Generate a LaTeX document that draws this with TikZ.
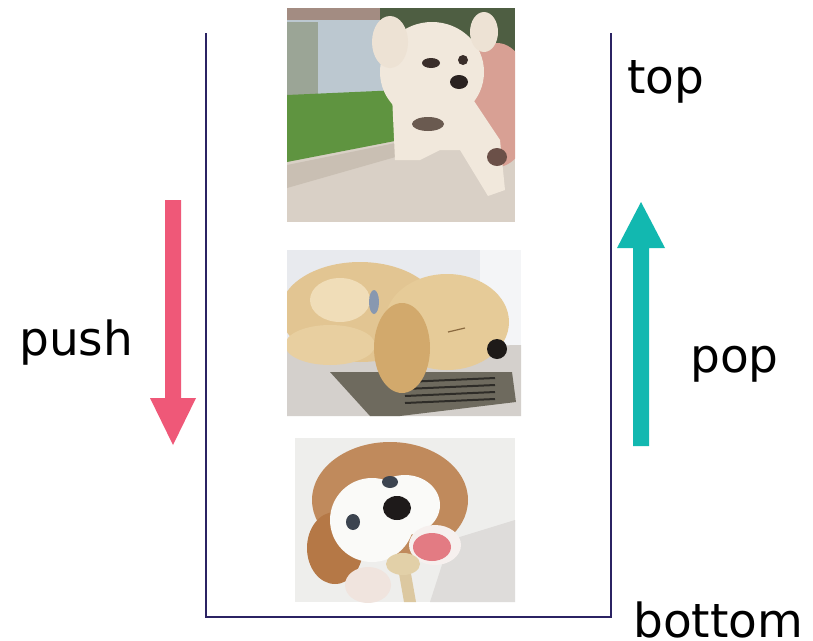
\documentclass[tikz,border=0pt]{standalone}
\usepackage{fontspec}
\setmainfont{DejaVu Sans}
\begin{document}
\begin{tikzpicture}[x=1pt,y=-1pt,
  stackline/.style={draw=stacknavy,line width=1.4pt},
  lbl/.style={anchor=base west,inner sep=0pt,font=\fontsize{47}{52}\selectfont},
  pushfill/.style={fill=pushpink},
  popfill/.style={fill=popteal},
  hf/.code={\definecolor{tmpfill}{HTML}{#1}\pgfkeysalso{fill=tmpfill}},
  hd/.code={\definecolor{tmpdraw}{HTML}{#1}\pgfkeysalso{draw=tmpdraw}}]
\definecolor{stacknavy}{HTML}{2B2363}
\definecolor{pushpink}{HTML}{EF5878}
\definecolor{popteal}{HTML}{12B8B0}
\useasboundingbox (0,0) rectangle (813,640);
\fill[white] (0,0) rectangle (813,640);

% ---------- photo 1: puppy held in hand ----------
\begin{scope}
\clip (287,8) rectangle (515,222);
\fill[hf=D9D0C6] (287,8) rectangle (515,222);
\fill[hf=4E5E42] (287,8) rectangle (515,60);
\fill[hf=A38C82] (287,8) rectangle (380,22);
\fill[hf=BCC8D0] (287,20) rectangle (385,100);
\fill[hf=9BA596] (287,22) rectangle (318,95);
\fill[hf=5F9440] (287,95) -- (400,90) -- (400,140) -- (287,162) -- cycle;
\fill[hf=C9BFB3] (287,165) -- (420,138) -- (420,150) -- (287,188) -- cycle;
\fill[hf=D8A094] (497,105) ellipse [x radius=36pt, y radius=62pt];
% dog
\fill[hf=F1E8DC] (392,95) -- (470,95) -- (500,140) -- (505,190) -- (488,196) -- (460,150) -- (440,150) -- (420,160) -- (395,160) -- cycle;
\fill[hf=F1E8DC] (432,72) ellipse [x radius=52pt, y radius=50pt];
\fill[hf=EDE2D4] (390,42) ellipse [x radius=18pt, y radius=26pt];
\fill[hf=EDE2D4] (484,32) ellipse [x radius=14pt, y radius=20pt];
\fill[hf=6A5A50] (428,124) ellipse [x radius=16pt, y radius=7pt];
\fill[hf=3A2E2A] (431,63) ellipse [x radius=9pt, y radius=5pt];
\fill[hf=3A2E2A] (463,60) ellipse [x radius=5pt, y radius=5pt];
\fill[hf=2A2220] (459,82) ellipse [x radius=9pt, y radius=7pt];
\fill[hf=6B5048] (497,157) ellipse [x radius=10pt, y radius=9pt];
\end{scope}

% ---------- photo 2: sleeping puppy on vent ----------
\begin{scope}
\clip (287,250) rectangle (521,416);
\fill[hf=E8EAEE] (287,250) rectangle (521,416);
\fill[hf=F4F5F7] (480,250) rectangle (521,350);
\fill[hf=D4D0CC] (287,350) -- (521,345) -- (521,416) -- (287,416) -- cycle;
\fill[hf=6E6A5E] (330,372) -- (512,372) -- (516,402) -- (400,416) -- (370,416) -- cycle;
\foreach \yy in {382,389,396,403}
  \draw[hd=2E2C28,line width=2pt] (405,\yy) -- (495,\yy-4);
\fill[hf=E2C592] (360,312) ellipse [x radius=80pt, y radius=50pt];
\fill[hf=E6CB98] (447,322) ellipse [x radius=62pt, y radius=48pt];
\fill[hf=F0DDB8] (340,300) ellipse [x radius=30pt, y radius=22pt];
\fill[hf=E8CFA0] (330,345) ellipse [x radius=45pt, y radius=20pt];
\fill[hf=D2A96C] (402,348) ellipse [x radius=28pt, y radius=45pt];
\fill[hf=8898B0] (374,302) ellipse [x radius=5pt, y radius=12pt];
\draw[hd=8A6A40,line width=1.2pt] (448,332) -- (465,328);
\fill[hf=1E1A18] (497,349) ellipse [x radius=10pt, y radius=10pt];
\end{scope}

% ---------- photo 3: beagle puppy chewing ----------
\begin{scope}
\clip (295,438) rectangle (515,602);
\fill[hf=EEEEEC] (295,438) rectangle (515,602);
\fill[hf=DEDCDA] (450,540) -- (515,520) -- (515,602) -- (430,602) -- cycle;
\fill[hf=C08A5C] (390,500) ellipse [x radius=78pt, y radius=58pt];
\fill[hf=B57846] (335,548) ellipse [x radius=28pt, y radius=36pt];
\fill[hf=FAFAF8] (372,520) ellipse [x radius=42pt, y radius=42pt];
\fill[hf=FAFAF8] (405,505) ellipse [x radius=35pt, y radius=30pt];
\fill[hf=3C4450] (353,522) ellipse [x radius=7pt, y radius=8pt];
\fill[hf=3C4450] (390,482) ellipse [x radius=8pt, y radius=6pt];
\fill[hf=1E1A1A] (397,508) ellipse [x radius=14pt, y radius=12pt];
\fill[hf=F6F0EE] (435,545) ellipse [x radius=26pt, y radius=20pt];
\fill[hf=E37B83] (432,547) ellipse [x radius=19pt, y radius=14pt];
\fill[hf=DCC8A0] (398,568) -- (410,568) -- (416,602) -- (404,602) -- cycle;
\fill[hf=E2D0A8] (403,564) ellipse [x radius=17pt, y radius=11pt];
\fill[hf=F0E4DE] (368,585) ellipse [x radius=23pt, y radius=18pt];
\end{scope}

% ---------- stack container ----------
\coordinate (tl) at (206,33);
\coordinate (bl) at (206,617);
\coordinate (br) at (611,617);
\coordinate (tr) at (611,33);
\draw[stackline] (tl) -- (bl) -- (br) -- (tr);

% ---------- push / pop arrows ----------
\fill[pushfill] (165,200) -- (181,200) -- (181,398) -- (196,398) -- (173,445) -- (150,398) -- (165,398) -- cycle;
\fill[popfill] (633,446) -- (649,446) -- (649,248) -- (665,248) -- (641,202) -- (617,248) -- (633,248) -- cycle;

% ---------- labels ----------
\node[lbl] (top) at (627,93) {top};
\node[lbl] (push) at (19,355) {push};
\node[lbl] (pop) at (690,372) {pop};
\node[lbl] (bottom) at (633,637) {bottom};
\end{tikzpicture}
\end{document}
